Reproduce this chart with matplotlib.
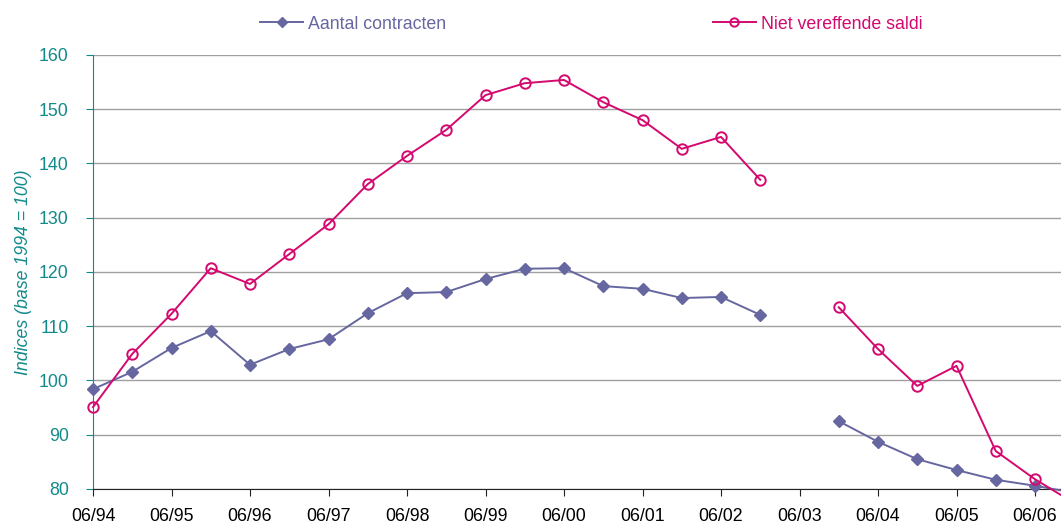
import numpy as np
import matplotlib.pyplot as plt

plt.rcParams['font.family'] = ['Liberation Sans', 'DejaVu Sans']

# Half-yearly periods from 06/94 to 12/06
periods = ['06/94', '12/94', '06/95', '12/95', '06/96', '12/96', '06/97', '12/97',
           '06/98', '12/98', '06/99', '12/99', '06/00', '12/00', '06/01', '12/01',
           '06/02', '12/02', '06/03', '12/03', '06/04', '12/04', '06/05', '12/05',
           '06/06', '12/06']
tick_labels = ['06/94', '06/95', '06/96', '06/97', '06/98', '06/99', '06/00',
               '06/01', '06/02', '06/03', '06/04', '06/05', '06/06']

nan = np.nan
aantal = [98.4, 101.6, 106.0, 109.1, 102.9, 105.8, 107.6, 112.4,
          116.1, 116.3, 118.7, 120.6, 120.7, 117.4, 116.9, 115.2,
          115.4, 112.1, nan, 92.5, 88.7, 85.5, 83.5, 81.7,
          80.6, 79.3]
saldi = [95.1, 104.9, 112.3, 120.7, 117.8, 123.3, 128.8, 136.2,
         141.4, 146.2, 152.6, 154.8, 155.4, 151.3, 148.0, 142.7,
         144.9, 137.0, nan, 113.5, 105.8, 99.0, 102.7, 87.0,
         81.8, 77.4]

purple = '#6666A0'
pink = '#D4086E'
teal = '#138A8A'

x = np.arange(len(periods))

fig = plt.figure(figsize=(10.61, 5.24), dpi=100)
ax = fig.add_axes([93/1061, 1 - 489/524, 1 - 93/1061, (489 - 55)/524])

ax.plot(x, aantal, color=purple, lw=1.4, marker='D', markersize=6,
        label='Aantal contracten', clip_on=False, zorder=3)
ax.plot(x, saldi, color=pink, lw=1.4, marker='o', markersize=7.5,
        markerfacecolor='none', markeredgewidth=1.4,
        label='Niet vereffende saldi', clip_on=False, zorder=3)

ax.set_xlim(0, (1061 - 93) / 39.25)
ax.set_ylim(80, 160)
ax.set_yticks(range(80, 161, 10))
ax.set_xticks(x[::2])
ax.set_xticklabels(tick_labels)
ax.yaxis.grid(True, color='#A0A0A0', lw=1)
ax.set_axisbelow(True)

for s in ['top', 'right']:
    ax.spines[s].set_visible(False)
ax.spines['left'].set_color(teal)
ax.spines['bottom'].set_color('#222222')
ax.tick_params(axis='y', colors=teal, labelsize=12.8, length=5, pad=12.5)
ax.tick_params(axis='x', colors='#222222', labelsize=12.8, length=5, pad=9,
               labelcolor='black')
ax.set_ylabel('Indices (base 1994 = 100)', color=teal, fontsize=12.8,
              style='italic', labelpad=5)

leg = fig.legend(loc='center', bbox_to_anchor=(0.5575, 0.954), ncol=2,
                 frameon=False, fontsize=12.8, columnspacing=15.0,
                 handlelength=2.4, handletextpad=0.3, markerscale=0.8)
for t, c in zip(leg.get_texts(), [purple, pink]):
    t.set_color(c)

fig.savefig('out.png', dpi=100)
